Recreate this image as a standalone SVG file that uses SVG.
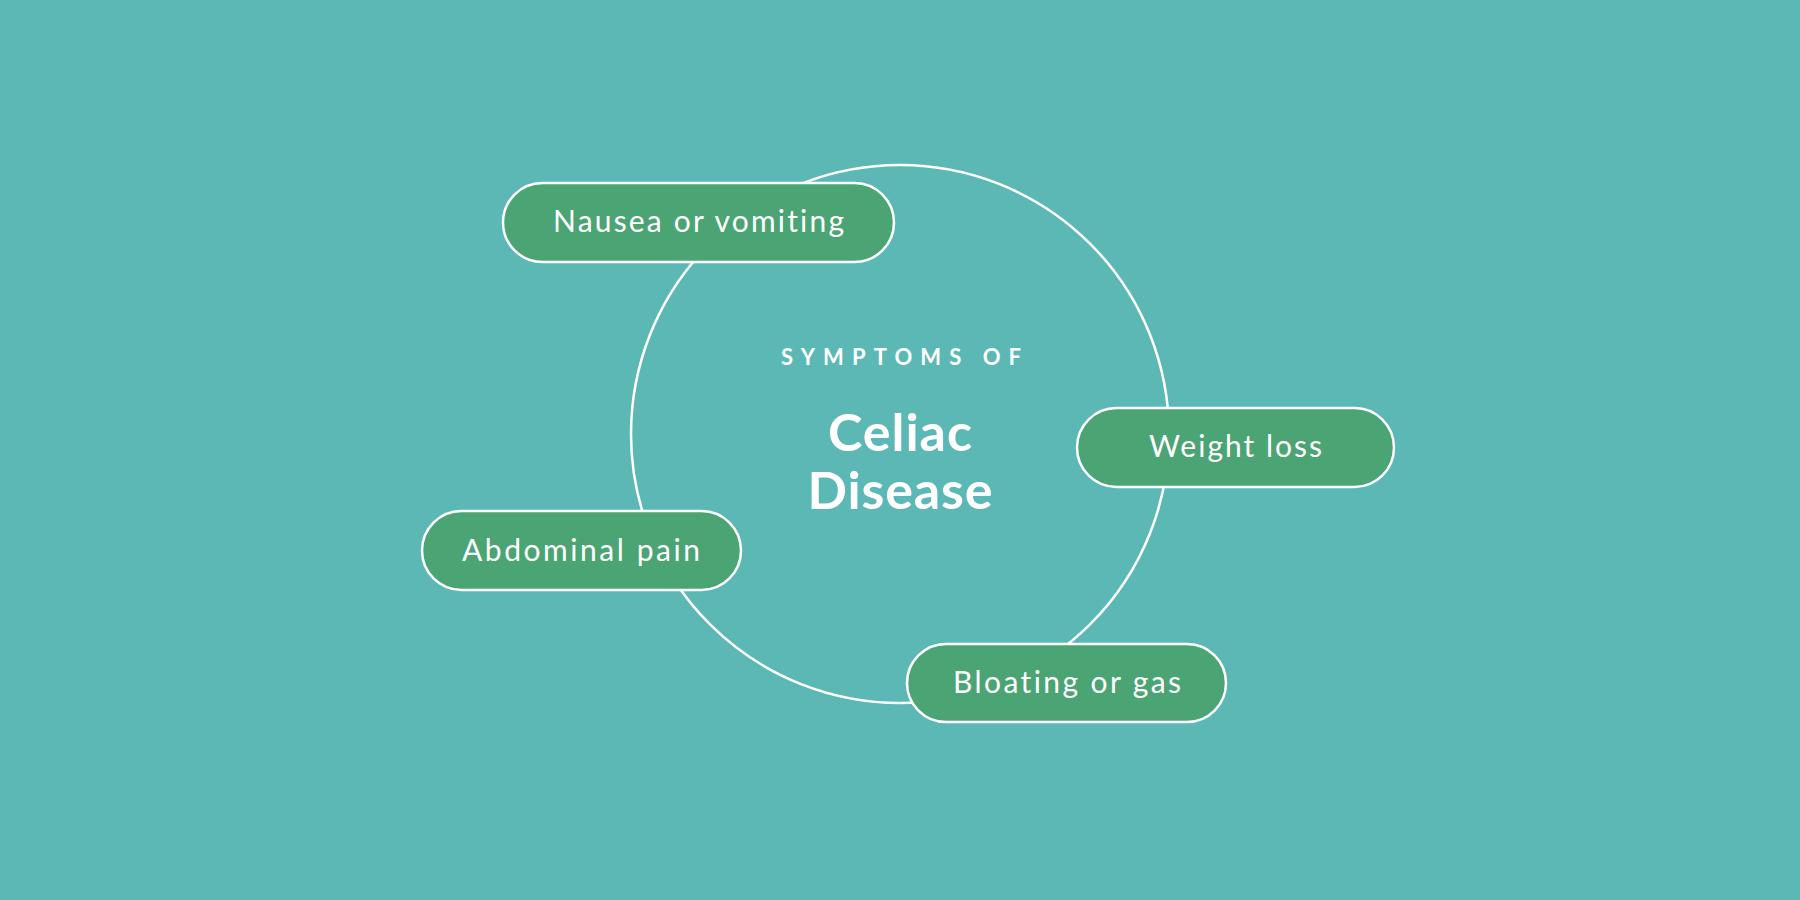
<svg xmlns="http://www.w3.org/2000/svg" width="1800" height="900" viewBox="0 0 1800 900">
<style>
text{font-variant-ligatures:none;font-feature-settings:"liga" 0}
.pill{fill:#4ba474;stroke:#ffffff;stroke-width:2.5}
.lbl{font-family:Lato,"Noto Sans","Liberation Sans",sans-serif;font-size:30px;fill:#ffffff;text-anchor:middle}
.ring{fill:none;stroke:#ffffff;stroke-width:2.5}
.sub{font-family:Lato,"Noto Sans","Liberation Sans",sans-serif;font-size:22px;font-weight:700;fill:#ffffff;text-anchor:middle}
.title{font-family:Lato,"Noto Sans","Liberation Sans",sans-serif;font-size:52px;font-weight:700;fill:#ffffff;text-anchor:middle}
</style>
<rect width="1800" height="900" fill="#5cb8b4"/>
<g id="connectors">
<circle class="ring" cx="900" cy="434" r="269"/>
</g>
<g id="center">
<text class="sub" x="901" y="365" textLength="240" lengthAdjust="spacing">SYMPTOMS OF</text>
<text class="title" x="900" y="451" textLength="144" lengthAdjust="spacing">Celiac</text>
<text class="title" x="900" y="509" textLength="185" lengthAdjust="spacing">Disease</text>
</g>
<g id="nausea">
<rect class="pill" x="503" y="183" width="391" height="79" rx="39.5"/>
<text class="lbl" x="698.5" y="232" textLength="291" lengthAdjust="spacing">Nausea or vomiting</text>
</g>
<g id="weight">
<rect class="pill" x="1077" y="408" width="317" height="79" rx="39.5"/>
<text class="lbl" x="1235.5" y="457" textLength="173" lengthAdjust="spacing">Weight loss</text>
</g>
<g id="abdominal">
<rect class="pill" x="422" y="511" width="319" height="79" rx="39.5"/>
<text class="lbl" x="581" y="561" textLength="238" lengthAdjust="spacing">Abdominal pain</text>
</g>
<g id="bloating">
<rect class="pill" x="907" y="644" width="319" height="78" rx="39"/>
<text class="lbl" x="1067" y="693" textLength="228" lengthAdjust="spacing">Bloating or gas</text>
</g>
</svg>
